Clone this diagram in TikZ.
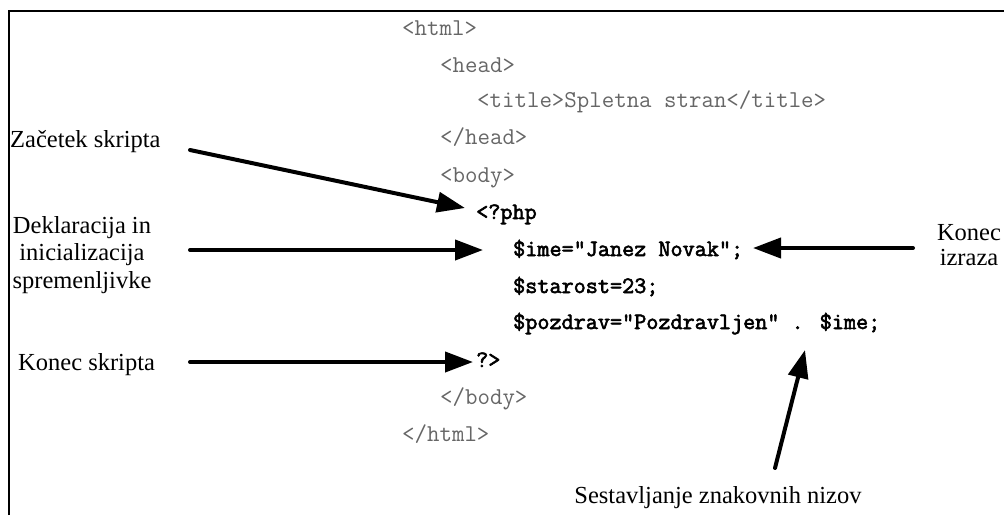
\documentclass[tikz,border=0pt]{standalone}
\usepackage{fontspec}
\setmainfont{Liberation Serif}
\newfontfamily\phpfont[FakeBold=2.5]{Latin Modern Mono}
\usetikzlibrary{arrows.meta}
\begin{document}
\begin{tikzpicture}[x=1pt,y=-1pt,
  tag/.style={anchor=base west,inner sep=0pt,font=\ttfamily\fontsize{24.2}{26}\selectfont,text=black!60},
  php/.style={anchor=base west,inner sep=0pt,font=\phpfont\fontsize{23.5}{26}\selectfont,text=black},
  lbl/.style={inner sep=0pt,font=\fontsize{24.5}{27.5}\selectfont,align=center},
  arr/.style={line width=4pt,line cap=round,-{Triangle[length=28pt,width=20pt]}},
]
\useasboundingbox (0,0) rectangle (1004,515);
\draw[line width=2.5pt] (9,515) -- (9,11) -- (1004,11);
% code
\node[tag] (c1) at (402,35) {<html>};
\node[tag] (c2) at (440,72) {<head>};
\node[tag] (c3) at (477,107) {<title>Spletna stran</title>};
\node[tag] (c4) at (440,144) {</head>};
\node[tag] (c5) at (440,182) {<body>};
\node[php] (c6) at (476,219) {<?php};
\node[php] (c7) at (513,256) {\$ime="Janez Novak";};
\node[php] (c8) at (513,293) {\$starost=23;};
\node[php] (c9) at (513,329) {\$pozdrav="Pozdravljen" . \$ime;};
\node[php] (c10) at (476,367) {?>};
\node[tag] (c11) at (440,404) {</body>};
\node[tag] (c12) at (402,441) {</html>};
% labels
\node[lbl,anchor=base west] (l1) at (10,147) {Začetek skripta};
\node[lbl,anchor=base] (l2) at (82,288) {Deklaracija in\\inicializacija\\spremenljivke};
\node[lbl,anchor=base west] (l3) at (18,370) {Konec skripta};
\node[lbl,anchor=base,font=\fontsize{24.5}{25}\selectfont] (l4) at (969,265) {Konec\\izraza};
\node[lbl,anchor=base] (l5) at (718,503) {Sestavljanje znakovnih nizov};
% arrow ends
\coordinate (a1s) at (190,150); \coordinate (a1e) at (465,208);
\coordinate (a2s) at (190,250); \coordinate (a2e) at (483,250);
\coordinate (a3s) at (190,362); \coordinate (a3e) at (473,362);
\coordinate (a4s) at (913,248); \coordinate (a4e) at (753,248);
\coordinate (a5s) at (775,468); \coordinate (a5e) at (805,350);
\draw[arr] (a1s) -- (a1e);
\draw[arr] (a2s) -- (a2e);
\draw[arr] (a3s) -- (a3e);
\draw[arr] (a4s) -- (a4e);
\draw[arr] (a5s) -- (a5e);
\end{tikzpicture}
\end{document}
